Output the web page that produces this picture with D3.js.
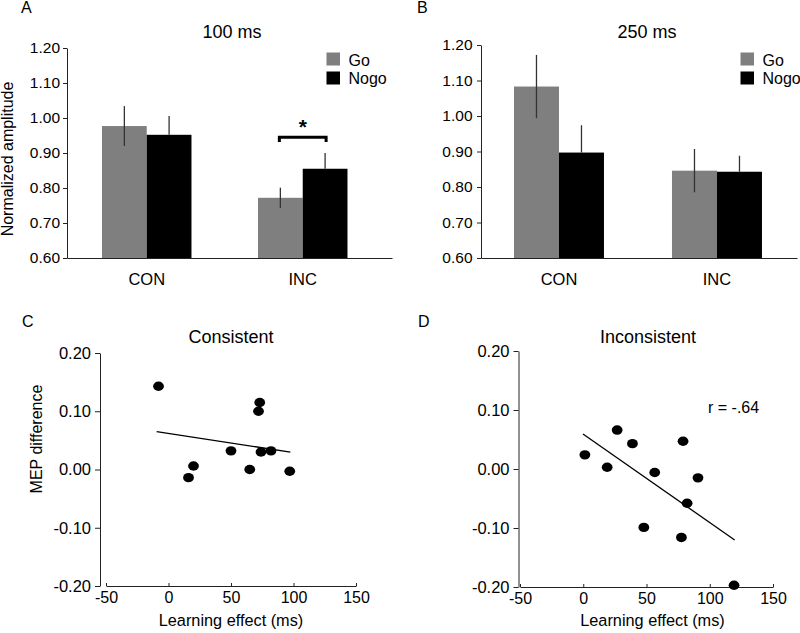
<!DOCTYPE html>
<html>
<head>
<meta charset="utf-8">
<script src="https://cdn.jsdelivr.net/npm/d3@7"></script>
<style>
  html, body { margin: 0; padding: 0; background: #fff; }
  svg { display: block; }
  svg text { fill: #000; font-family: "Liberation Sans", Arial, sans-serif; }
</style>
</head>
<body>
<svg id="chart" width="800" height="633"></svg>
<script>
// ---------------- DATA ----------------
const groups = ["CON", "INC"];
const conditions = ["Go", "Nogo"];
const conditionColors = ["#7f7f7f", "#000000"];

// Panel A: 100 ms
const amp100Go = [0.977, 0.772];
const amp100GoErr = [0.057, 0.029];
const amp100Nogo = [0.952, 0.855];
const amp100NogoErr = [0.054, 0.045];

// Panel B: 250 ms
const amp250Go = [1.083, 0.846];
const amp250GoErr = [0.089, 0.061];
const amp250Nogo = [0.897, 0.843];
const amp250NogoErr = [0.077, 0.045];

const barTicks = [0.60, 0.70, 0.80, 0.90, 1.00, 1.10, 1.20];

// Panel C: consistent
const consLearning = [-8, 73, 72, 50, 74, 82, 20, 16, 65, 97];
const consMEP = [0.143, 0.115, 0.100, 0.032, 0.030, 0.032, 0.006, -0.014, 0.000, -0.003];

// Panel D: inconsistent
const incLearning = [1.3, 18.9, 26.8, 38.9, 56.5, 47.9, 78.9, 90.7, 82.1, 77.6, 119.2];
const incMEP = [0.024, 0.003, 0.066, 0.043, -0.006, -0.099, 0.047, -0.015, -0.058, -0.116, -0.197];

const scatterXTicks = [-50, 0, 50, 100, 150];
const scatterYTicks = [-0.20, -0.10, 0.00, 0.10, 0.20];

// ---------------- DRAWING ----------------
const svg = d3.select("#chart");
const FONT = "'Liberation Sans', Arial, sans-serif";
const fmt2 = d => d.toFixed(2);

function barPanel(cfg) {
  const g = svg.append("g");
  const y = d3.scaleLinear().domain([0.6, 1.2]).range([cfg.yBottom, cfg.yTop]);
  const x = d3.scaleBand().domain(groups).range([cfg.x0, cfg.x1])
    .paddingInner(cfg.pi).paddingOuter(cfg.po).align(cfg.align);
  const xs = d3.scaleBand().domain(conditions).range([0, x.bandwidth()]).padding(0);

  const means = [cfg.go, cfg.nogo];
  const errs = [cfg.goErr, cfg.nogoErr];

  // bars
  conditions.forEach((c, ci) => {
    g.selectAll(null).data(groups).enter().append("rect")
      .attr("x", d => x(d) + xs(c))
      .attr("width", xs.bandwidth())
      .attr("y", (d, i) => y(means[ci][i]))
      .attr("height", (d, i) => y(0.6) - y(means[ci][i]))
      .attr("fill", conditionColors[ci]);
  });
  // error bars (lower half hidden inside the black Nogo bars)
  conditions.forEach((c, ci) => {
    g.selectAll(null).data(groups).enter().append("line")
      .attr("x1", d => x(d) + xs(c) + xs.bandwidth() / 2)
      .attr("x2", d => x(d) + xs(c) + xs.bandwidth() / 2)
      .attr("y1", (d, i) => y(means[ci][i] + errs[ci][i]))
      .attr("y2", (d, i) => ci === 0 ? y(means[ci][i] - errs[ci][i]) : y(means[ci][i]))
      .attr("stroke", "#333").attr("stroke-width", 1.3);
  });

  // axes
  const yAxis = g.append("g").attr("transform", `translate(${cfg.x0},0)`)
    .call(d3.axisLeft(y).tickValues(barTicks).tickFormat(fmt2)
      .tickSizeInner(4).tickSizeOuter(0).tickPadding(cfg.tickPad));
  yAxis.attr("font-family", FONT);
  yAxis.selectAll("text").style("font-size", "15.5px").attr("fill", "#000");
  yAxis.selectAll("line,path").attr("stroke", "#222");

  const xAxis = g.append("g").attr("transform", `translate(0,${cfg.yBottom})`)
    .call(d3.axisBottom(x).tickSize(0).tickPadding(15));
  xAxis.attr("font-family", FONT);
  xAxis.selectAll("text").style("font-size", "16.5px").attr("fill", "#000");
  xAxis.selectAll("path").attr("stroke", "#222");

  // title
  g.append("text").attr("x", cfg.titleX).attr("y", 38).attr("text-anchor", "middle")
    .style("font-size", "18px").text(cfg.title);
  // panel letter
  g.append("text").attr("x", cfg.letterX).attr("y", 13).style("font-size", "16px").text(cfg.letter);

  // legend
  conditions.forEach((c, ci) => {
    g.append("rect").attr("x", cfg.legX).attr("y", 52.5 + ci * 19).attr("width", 13.5).attr("height", 13)
      .attr("fill", conditionColors[ci]);
    g.append("text").attr("x", cfg.legX + 22).attr("y", 66 + ci * 18)
      .style("font-size", "16px").text(c);
  });
  return { g, x, xs, y };
}

// Panel A
const A = barPanel({
  x0: 67, x1: 392, yTop: 48, yBottom: 258, pi: 0.4263, po: 0.2548, align: 0.44, tickPad: 3,
  go: amp100Go, goErr: amp100GoErr, nogo: amp100Nogo, nogoErr: amp100NogoErr,
  title: "100 ms", titleX: 232, letter: "A", letterX: 21, legX: 326.5
});
// Axis label A
svg.append("text").attr("transform", "translate(13,159) rotate(-90)").attr("text-anchor", "middle")
  .style("font-size", "16px").text("Normalized amplitude");

// significance bracket on INC
{
  const xl = A.x("INC") + A.xs("Go") + A.xs.bandwidth() / 2;
  const xr = A.x("INC") + A.xs("Nogo") + A.xs.bandwidth() / 2;
  svg.append("path")
    .attr("d", `M${xl - 1},142V137.3H${xr + 1}V142`)
    .attr("fill", "none").attr("stroke", "#000").attr("stroke-width", 3);
  svg.append("text").attr("x", (xl + xr) / 2).attr("y", 134).attr("text-anchor", "middle")
    .style("font-size", "21px").style("font-weight", "bold").text("*");
}

// Panel B
barPanel({
  x0: 481, x1: 797, yTop: 45, yBottom: 258, pi: 0.4304, po: 0.2152, align: 0.485, tickPad: 4.5,
  go: amp250Go, goErr: amp250GoErr, nogo: amp250Nogo, nogoErr: amp250NogoErr,
  title: "250 ms", titleX: 647, letter: "B", letterX: 417, legX: 740.5
});

function regression(xs, ys) {
  const mx = d3.mean(xs), my = d3.mean(ys);
  let sxy = 0, sxx = 0;
  xs.forEach((v, i) => { sxy += (v - mx) * (ys[i] - my); sxx += (v - mx) * (v - mx); });
  const b = sxy / sxx;
  return { b, a: my - b * mx };
}

function scatterPanel(cfg) {
  const g = svg.append("g");
  const x = d3.scaleLinear().domain([-50, 150]).range([cfg.xL, cfg.xR]);
  const y = d3.scaleLinear().domain([-0.2, 0.2]).range([cfg.yB, cfg.yT]);

  const yAxis = g.append("g").attr("transform", `translate(${cfg.axisX},0)`)
    .call(d3.axisLeft(y).tickValues(scatterYTicks).tickFormat(fmt2)
      .tickSizeInner(5).tickSizeOuter(0).tickPadding(4));
  yAxis.attr("font-family", FONT);
  yAxis.selectAll("text").style("font-size", "16.5px").attr("fill", "#000");
  yAxis.selectAll("line,path").attr("stroke", "#222");

  const xAxis = g.append("g").attr("transform", `translate(0,${cfg.yB})`)
    .call(d3.axisBottom(x).tickValues(scatterXTicks).tickFormat(d => String(d))
      .tickSizeInner(-3).tickSizeOuter(0).tickPadding(5.5));
  xAxis.attr("font-family", FONT);
  xAxis.selectAll("text").style("font-size", "16px").attr("fill", "#000");
  xAxis.selectAll("line,path").attr("stroke", "#222");

  // regression line
  const r = regression(cfg.xs, cfg.ys);
  const xmin = d3.min(cfg.xs) - 1.5, xmax = d3.max(cfg.xs) + 0.5;
  g.append("line")
    .attr("x1", x(xmin)).attr("y1", y(r.a + r.b * xmin))
    .attr("x2", x(xmax)).attr("y2", y(r.a + r.b * xmax))
    .attr("stroke", "#000").attr("stroke-width", 1.3);

  // points
  g.selectAll(null).data(cfg.xs).enter().append("ellipse")
    .attr("cx", d => x(d)).attr("cy", (d, i) => y(cfg.ys[i]))
    .attr("rx", 5.4).attr("ry", 4.7).attr("fill", "#000");

  g.append("text").attr("x", cfg.titleX).attr("y", 343).attr("text-anchor", "middle")
    .style("font-size", "18px").text(cfg.title);
  g.append("text").attr("x", cfg.letterX).attr("y", 327).style("font-size", "16px").text(cfg.letter);
  g.append("text").attr("x", (cfg.xL + cfg.xR) / 2 + cfg.xlabShift).attr("y", 626).attr("text-anchor", "middle")
    .style("font-size", "16.3px").text("Learning effect (ms)");
  return { g, x, y };
}

scatterPanel({
  xL: 106, xR: 356, yB: 586, yT: 353, axisX: 100,
  xs: consLearning, ys: consMEP,
  title: "Consistent", titleX: 231, letter: "C", letterX: 22, xlabShift: 0
});
svg.append("text").attr("transform", "translate(42,439) rotate(-90)").attr("text-anchor", "middle")
  .style("font-size", "16px").text("MEP difference");

scatterPanel({
  xL: 520, xR: 773, yB: 587, yT: 351, axisX: 518.5,
  xs: incLearning, ys: incMEP,
  title: "Inconsistent", titleX: 648, letter: "D", letterX: 418, xlabShift: 6
});
svg.append("text").attr("x", 708).attr("y", 413).style("font-size", "16px").text("r = -.64");
</script>
</body>
</html>
